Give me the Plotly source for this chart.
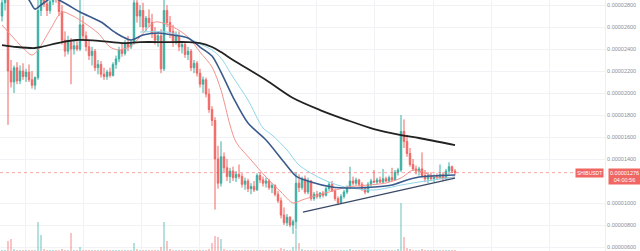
import plotly.graph_objects as go

# ---- data (prices in units of 1e-8) ----
open_ = [2700,2820,2850,2200,2100,2230,2110,2200,2150,2190,2120,2070,2140,2750,2850,2810,2750,2830,2900,2860,
         2740,2480,2380,2460,2400,2430,2400,2620,2520,2420,2340,2380,2230,2260,2170,2150,2190,2160,2260,2310,
         2390,2360,2450,2420,2460,2820,2700,2750,2600,2680,2640,2540,2480,2520,2220,2750,2640,2560,2460,2520,
         2420,2440,2350,2380,2230,2270,2180,2080,2120,1990,1850,1750,1400,1180,1420,1320,1240,1290,1230,1260,
         1240,1170,1200,1130,1150,1120,1250,1210,1180,1200,1140,1160,1080,1020,890,820,870,800,830,1180,
         1140,1220,1100,1200,1040,1080,1060,1090,1070,1130,1170,1110,1040,1000,1060,1100,1140,1200,1180,1210,
         1170,1130,1100,1170,1200,1190,1210,1190,1220,1200,1230,1210,1280,1300,1650,1560,1450,1350,1310,1290,
         1310,1250,1220,1250,1220,1240,1230,1260,1220,1290,1330,1290]
high = [2870,2900,2920,2300,2250,2280,2250,2270,2220,2260,2200,2150,2950,2920,2950,2900,2880,2950,2980,2950,
        2800,2560,2520,2500,2480,2470,2850,2700,2560,2480,2420,2400,2300,2290,2230,2210,2230,2280,2340,2420,
        2460,2480,2520,2480,2950,2900,2800,2820,2700,2760,2720,2600,2560,2580,2950,2800,2700,2620,2560,2560,
        2470,2460,2420,2400,2300,2290,2220,2150,2140,2040,1880,1780,1520,1560,1460,1400,1320,1330,1290,1350,
        1270,1230,1220,1180,1200,1270,1280,1240,1230,1220,1180,1170,1110,1050,960,900,880,850,1280,1260,
        1240,1250,1230,1210,1100,1110,1100,1110,1150,1190,1200,1130,1060,1080,1120,1160,1330,1240,1230,1220,
        1190,1150,1190,1220,1300,1230,1240,1310,1240,1250,1320,1300,1320,1800,1760,1620,1500,1400,1340,1330,
        1460,1300,1270,1280,1260,1270,1350,1280,1310,1370,1340,1310]
low = [2650,2750,1710,2050,2000,2080,2080,2120,2100,2100,2040,2030,2120,2700,2780,2700,2720,2800,2820,2700,
       2440,2330,2350,2080,2350,2380,2380,2480,2380,2300,2250,2200,2170,2140,2120,2120,2140,2150,2220,2280,
       2330,2340,2380,2400,2440,2640,2600,2560,2560,2600,2500,2440,2420,2180,2200,2600,2500,2420,2440,2380,
       2360,2320,2300,2200,2180,2150,2050,2000,1960,1820,1700,940,1130,1150,1280,1200,1180,1200,1190,1220,
       1140,1120,1100,1080,1100,1110,1180,1150,1140,1120,1090,1060,1000,860,800,790,780,720,760,1100,
       1120,1080,1080,1020,1020,1040,1040,1050,1060,1110,1100,1020,980,990,1040,1080,1130,1160,1160,1150,
       1110,1080,1090,1150,1180,1170,1180,1180,1190,1190,1200,1200,1250,1280,1500,1420,1330,1290,1260,1250,
       1230,1190,1180,1200,1190,1210,1220,1200,1210,1260,1270,1250]
close = [2820,2850,2200,2100,2230,2110,2200,2150,2190,2120,2070,2140,2750,2850,2810,2750,2830,2900,2860,2740,
         2480,2380,2460,2400,2430,2400,2620,2520,2420,2340,2380,2230,2260,2170,2150,2190,2160,2260,2310,2390,
         2360,2450,2420,2460,2820,2700,2750,2600,2680,2640,2540,2480,2520,2220,2750,2640,2560,2460,2520,2420,
         2440,2350,2380,2230,2270,2180,2080,2120,1990,1850,1750,1400,1180,1420,1320,1240,1290,1230,1260,1240,
         1170,1200,1130,1150,1120,1250,1210,1180,1200,1140,1160,1080,1020,890,820,870,800,830,1180,1140,
         1220,1100,1200,1040,1080,1060,1090,1070,1130,1170,1110,1040,1000,1060,1100,1140,1200,1180,1210,1170,
         1130,1100,1170,1200,1190,1210,1190,1220,1200,1230,1210,1280,1300,1650,1560,1450,1350,1310,1290,1310,
         1250,1220,1250,1220,1240,1230,1260,1220,1290,1330,1290,1276]
volume = [1,1,10,12,2,1,1,1,1,1,1,1,29,16,2,1,1,1,1,1,
          2,1,1,18,1,1,4,1,1,1,1,1,1,1,1,1,1,1,1,1,
          1,1,1,1,8,2,1,1,1,1,1,1,1,4,29,10,2,1,1,1,
          1,1,1,1,1,1,1,1,1,2,8,15,14,12,2,1,1,1,1,1,
          1,1,1,1,1,1,1,1,1,1,1,1,1,3,2,1,1,4,21,8,
          2,1,1,1,1,1,1,1,1,1,1,1,1,1,1,1,2,1,1,1,
          1,1,1,1,1,1,1,1,1,1,1,1,2,48,14,3,2,1,1,1,
          2,1,1,1,1,1,1,1,1,1,1,1]

ma_black_i = [0,5,11,13,20,25,33,40,46,55,62,66,70,73,77,88,97,106,115,124,133,139,151]
ma_black_v = [2436,2418,2409,2418,2463,2482,2472,2454,2463,2463,2463,2454,2418,2372,2300,2118,1954,1845,1754,1672,1618,1591,1527]
ma_blue_i = [0,9,11,13,17,19,22,26,33,38,43,47,52,57,62,66,70,73,77,82,88,94,98,103,110,116,124,130,135,139,151]
ma_blue_v = [3100,2845,2763,2800,2870,2845,2800,2736,2645,2545,2482,2527,2545,2527,2500,2418,2336,2190,1963,1727,1573,1372,1245,1191,1145,1136,1145,1163,1209,1236,1254]
ma_cyan_i = [46,55,62,66,70,73,77,82,87,90,95,99,106,113,124,133,139,151]
ma_cyan_v = [2554,2554,2500,2445,2391,2318,2145,1936,1682,1618,1482,1345,1227,1154,1118,1163,1191,1236]
ma_red_i = [0,3,7,10,12,16,20,23,26,32,36,39,43,46,51,57,62,66,70,73,76,78,83,88,93,97,100,103,109,115,122,128,133,137,140,146,151]
ma_red_v = [2618,2527,2409,2345,2391,2573,2736,2709,2663,2545,2418,2391,2427,2509,2645,2600,2509,2372,2236,2027,1709,1554,1391,1236,1100,1000,1027,1054,1100,1145,1163,1182,1227,1300,1282,1227,1236]

trend_i = [100.3, 151]
trend_v = [918, 1227]

tick_vals = [600, 800, 1000, 1400, 1600, 1800, 2000, 2200, 2400, 2600, 2800]
tick_text = ["0.00000600", "0.00000800", "0.00001000", "0.00001400", "0.00001600",
             "0.00001800", "0.00002000", "0.00002200", "0.00002400", "0.00002600", "0.00002800"]
last_price = 1276
last_price_text = "0.00001276"
countdown = "04:00:56"
symbol = "SHIBUSDT"

UP = "#3aae a2".replace(" ", "")
DN = "#f06663"
idx = list(range(len(close)))

fig = go.Figure()
vol_colors = ["rgba(38,166,154,0.45)" if c >= o else "rgba(239,83,80,0.45)" for o, c in zip(open_, close)]
fig.add_trace(go.Bar(x=idx, y=volume, marker_color=vol_colors, marker_line_width=0,
                     width=0.5, yaxis="y2", showlegend=False))
fig.add_trace(go.Candlestick(x=idx, open=open_, high=high, low=low, close=close,
                             increasing=dict(line=dict(color=UP, width=1), fillcolor=UP),
                             decreasing=dict(line=dict(color=DN, width=1), fillcolor=DN),
                             whiskerwidth=0, showlegend=False))
fig.add_trace(go.Scatter(x=ma_red_i, y=ma_red_v, mode="lines",
                         line=dict(color="#f4928c", width=1, shape="spline", smoothing=0.8), showlegend=False))
fig.add_trace(go.Scatter(x=ma_cyan_i, y=ma_cyan_v, mode="lines",
                         line=dict(color="#8fd6ea", width=1, shape="spline", smoothing=0.8), showlegend=False))
fig.add_trace(go.Scatter(x=ma_blue_i, y=ma_blue_v, mode="lines",
                         line=dict(color="#3b5a8c", width=1.6, shape="spline", smoothing=0.8), showlegend=False))
fig.add_trace(go.Scatter(x=ma_black_i, y=ma_black_v, mode="lines",
                         line=dict(color="#222222", width=1.8, shape="spline", smoothing=0.8), showlegend=False))
fig.add_trace(go.Scatter(x=trend_i, y=trend_v, mode="lines",
                         line=dict(color="#3a4a66", width=1.3), showlegend=False))

fig.add_shape(type="line", xref="paper", x0=0, x1=1, yref="y", y0=last_price, y1=last_price,
              line=dict(color="rgba(239,83,80,0.5)", width=1, dash="dot"))

fig.add_annotation(xref="paper", x=1, xshift=3, xanchor="left", yref="y", y=last_price, yshift=5,
                   yanchor="top", text=last_price_text + "<br>" + countdown, showarrow=False,
                   bgcolor=DN, borderpad=1, align="center",
                   font=dict(family="Liberation Sans, Arial", size=5.5, color="white"))
fig.add_annotation(xref="paper", x=1, xshift=-1, xanchor="right", yref="y", y=last_price,
                   yanchor="middle", text=symbol, showarrow=False, bgcolor=DN, borderpad=1,
                   font=dict(family="Liberation Sans, Arial", size=5, color="white"))

fig.update_layout(
    width=640, height=251, margin=dict(l=0, r=35, t=0, b=0),
    paper_bgcolor="white", plot_bgcolor="white",
    xaxis=dict(range=[-0.667, 201], rangeslider=dict(visible=False), showticklabels=False,
               showgrid=True, gridcolor="#f1f2f5", gridwidth=1, tick0=7.67, dtick=19.44,
               zeroline=False, showline=False, ticks=""),
    yaxis=dict(range=[563.6, 2845.5], side="right", tickvals=tick_vals, ticktext=tick_text,
               showgrid=True, gridcolor="#f1f2f5", gridwidth=1, zeroline=False,
               showline=True, linecolor="#eceef2", linewidth=1, ticks="",
               tickfont=dict(family="Liberation Sans, Arial", size=5.5, color="#8a8e99")),
    yaxis2=dict(overlaying="y", range=[0, 251], visible=False),
    showlegend=False,
)
fig.write_html("out.html")
